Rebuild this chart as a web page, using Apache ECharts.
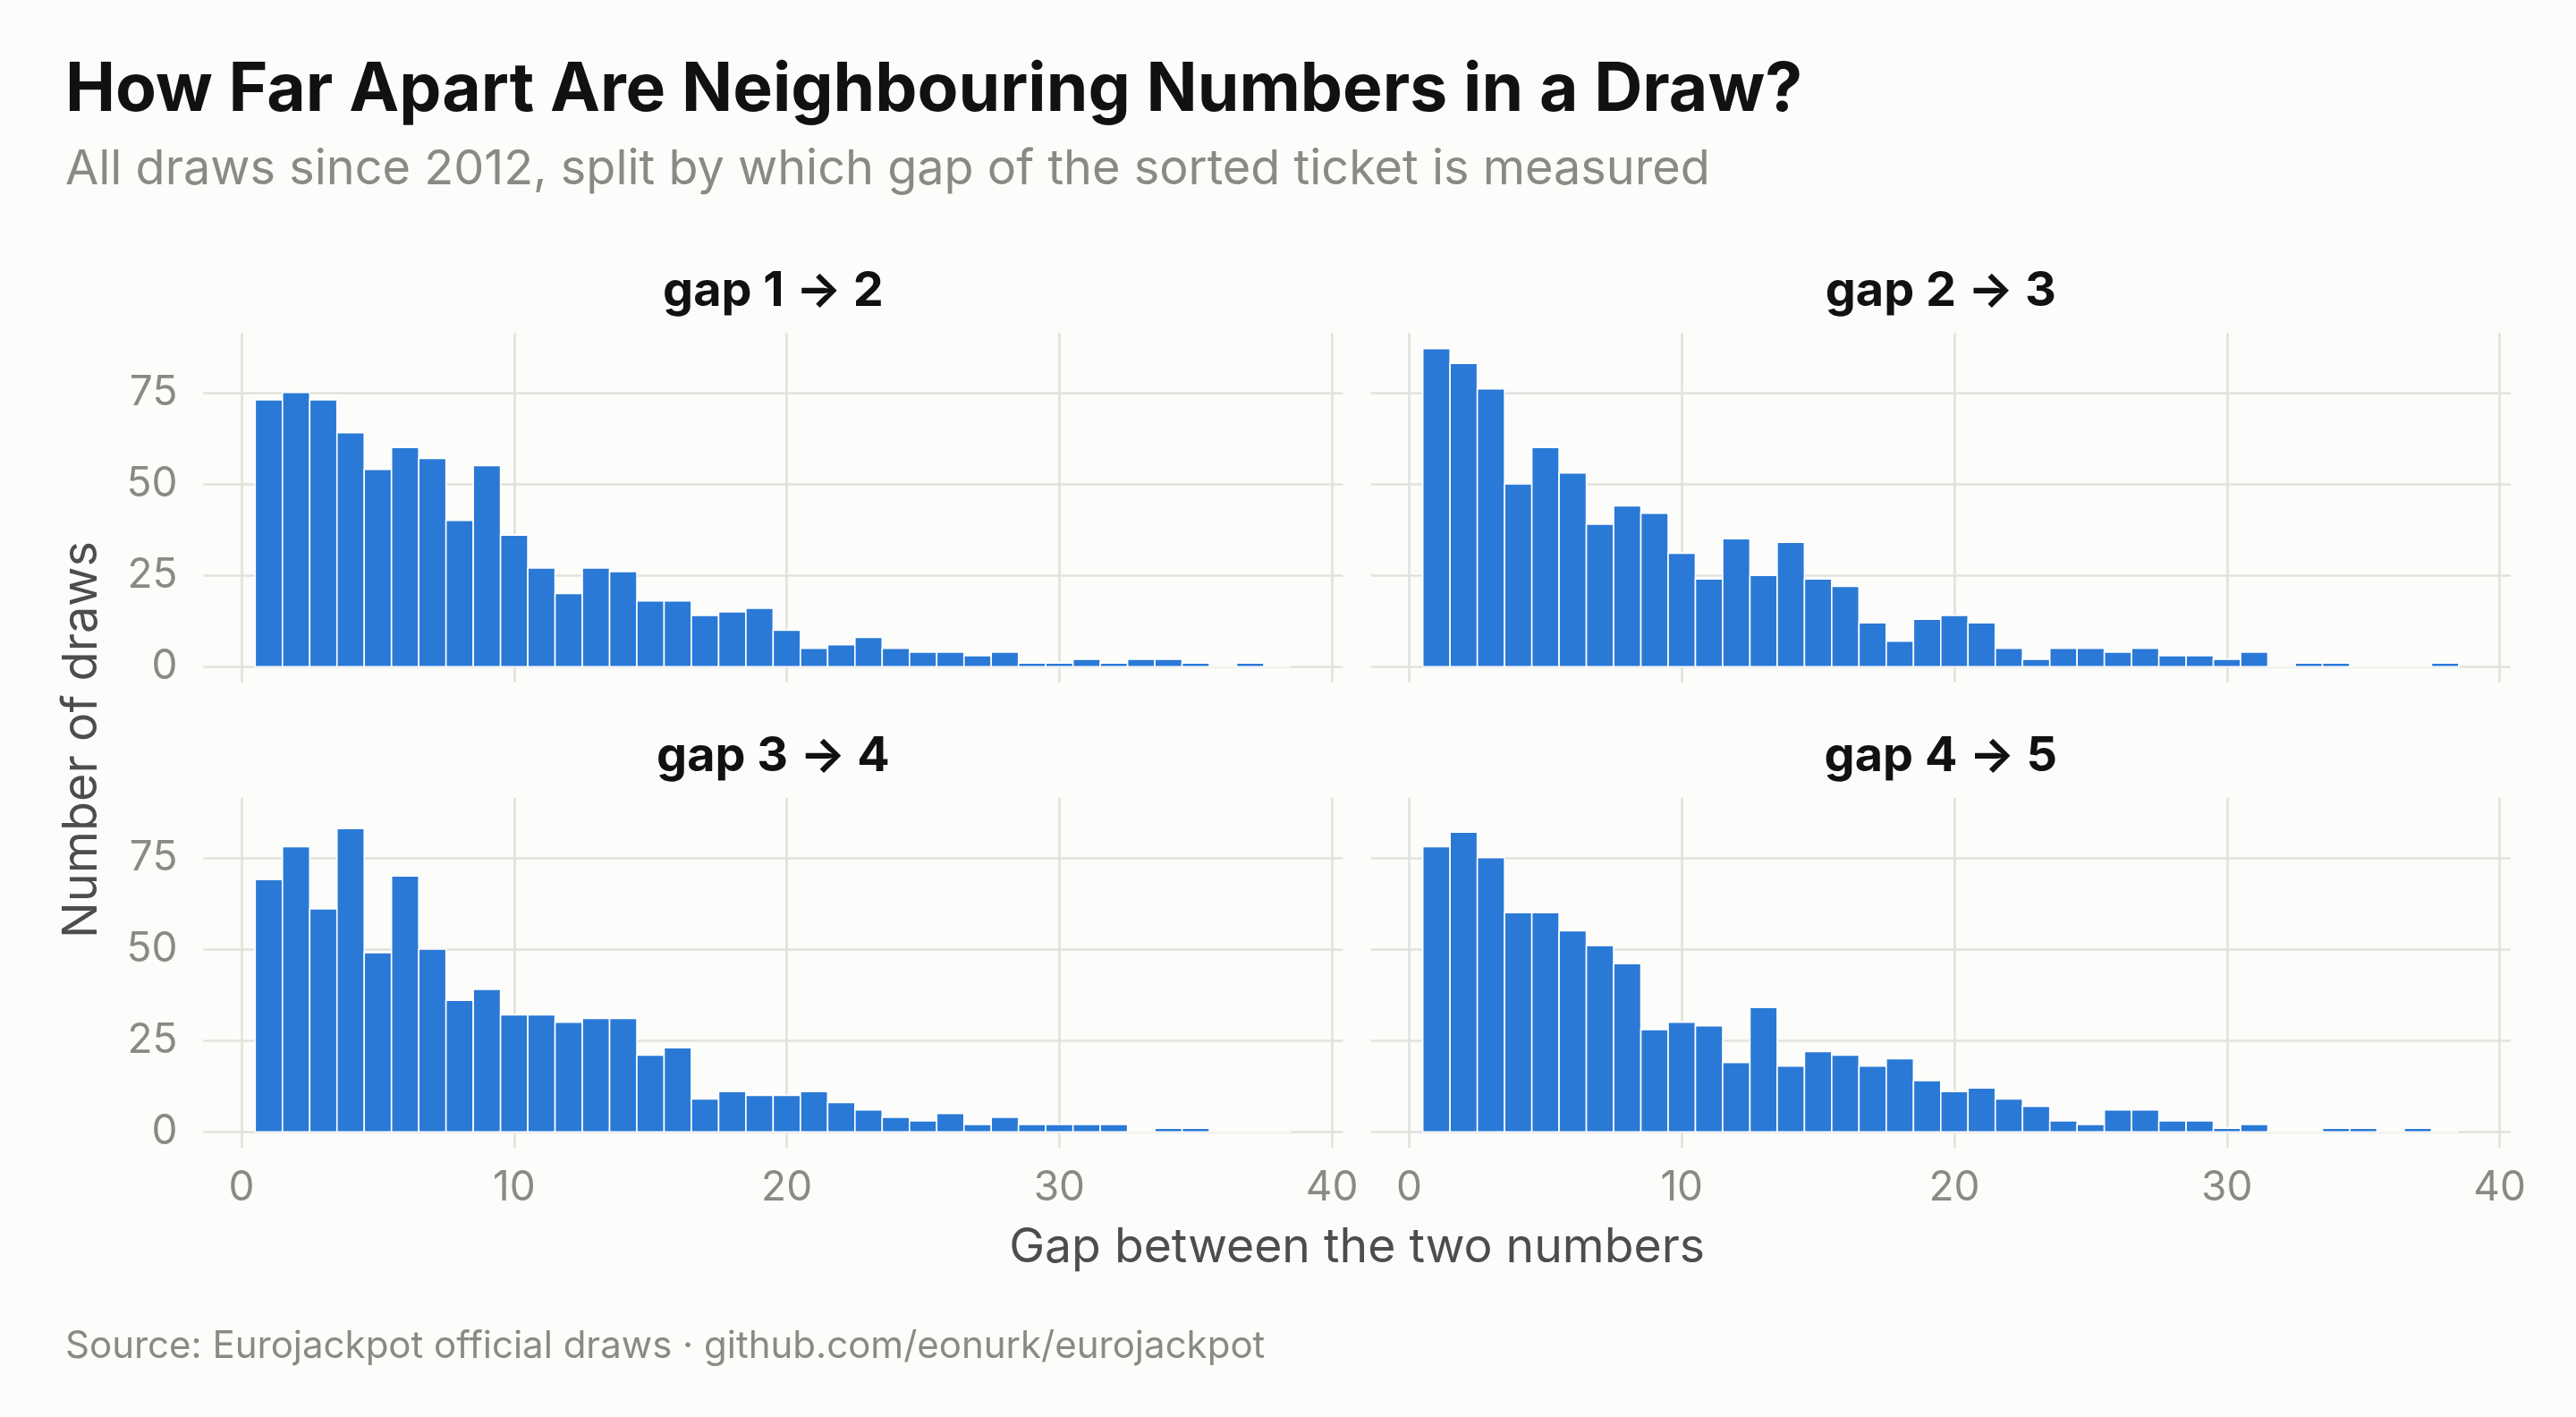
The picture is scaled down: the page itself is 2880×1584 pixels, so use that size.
<!DOCTYPE html>
<html>
<head>
<meta charset="utf-8">
<script src="https://cdn.jsdelivr.net/npm/echarts@6/dist/echarts.min.js"></script>
<style>
html,body{margin:0;padding:0;background:#fcfcfa;}
#chart{width:2880px;height:1584px;}
</style>
</head>
<body>
<div id="chart"></div>
<script>
// ---- data ----
const gapBins = [1,2,3,4,5,6,7,8,9,10,11,12,13,14,15,16,17,18,19,20,21,22,23,24,25,26,27,28,29,30,31,32,33,34,35,36,37,38];
const gap12 = [73,75,73,64,54,60,57,40,55,36,27,20,27,26,18,18,14,15,16,10,5,6,8,5,4,4,3,4,1,1,2,1,2,2,1,0,1,0];
const gap23 = [87,83,76,50,60,53,39,44,42,31,24,35,25,34,24,22,12,7,13,14,12,5,2,5,5,4,5,3,3,2,4,0,1,1,0,0,0,1];
const gap34 = [69,78,61,83,49,70,50,36,39,32,32,30,31,31,21,23,9,11,10,10,11,8,6,4,3,5,2,4,2,2,2,2,0,1,1,0,0,0];
const gap45 = [78,82,75,60,60,55,51,46,28,30,29,19,34,18,22,21,18,20,14,11,12,9,7,3,2,6,6,3,3,1,2,0,0,1,1,0,1,0];
const panelTitles = ['gap 1 → 2', 'gap 2 → 3', 'gap 3 → 4', 'gap 4 → 5'];
const xTicks = [0, 10, 20, 30, 40];
const yTicks = [0, 25, 50, 75];
const binWidth = 1;

const titleText = 'How Far Apart Are Neighbouring Numbers in a Draw?';
const subtitleText = 'All draws since 2012, split by which gap of the sorted ticket is measured';
const xTitle = 'Gap between the two numbers';
const yTitle = 'Number of draws';
const captionText = 'Source: Eurojackpot official draws · github.com/eonurk/eurojackpot';

// ---- layout ----
const FONT = 'Inter, "Noto Sans", sans-serif';
const BAR = '#2a79d6';
const GRIDC = '#e2e2dc';
const colLeft = [227.4, 1532.8];
const rowTop = [372, 892];
const pw = 1274, ph = 391;
const seriesList = [gap12, gap23, gap34, gap45];

const grids = [], xAxes = [], yAxes = [], series = [], graphics = [];
seriesList.forEach((vals, i) => {
  const c = i % 2, r = Math.floor(i / 2);
  grids.push({left: colLeft[c], top: rowTop[r], width: pw, height: ph, containLabel: false});
  xAxes.push({
    type: 'value', gridIndex: i, min: -1.4, max: 40.4,
    axisLine: {show: false},
    axisTick: {show: false, customValues: xTicks},
    splitLine: {show: true, lineStyle: {color: GRIDC, width: 2.6}},
    axisLabel: {show: r === 1, customValues: xTicks, color: '#8a8a85', fontFamily: FONT, fontSize: 46, margin: 22}
  });
  yAxes.push({
    type: 'value', gridIndex: i, min: -4.35, max: 91.35,
    axisLine: {show: false},
    axisTick: {show: false, customValues: yTicks},
    splitLine: {show: true, lineStyle: {color: GRIDC, width: 2.6}},
    axisLabel: {show: c === 0, customValues: yTicks, color: '#8a8a85', fontFamily: FONT, fontSize: 46, margin: 29}
  });
  series.push({
    type: 'custom', xAxisIndex: i, yAxisIndex: i,
    data: gapBins.map((g, k) => [g, vals[k]]),
    renderItem: function (params, api) {
      const x = api.value(0), y = api.value(1);
      const p0 = api.coord([x - binWidth / 2, y]);
      const p1 = api.coord([x + binWidth / 2, 0]);
      return {
        type: 'rect',
        shape: {x: p0[0], y: p0[1], width: p1[0] - p0[0], height: p1[1] - p0[1]},
        style: {fill: y > 0 ? BAR : 'none', stroke: '#ffffff', lineWidth: 1.6}
      };
    }
  });
  graphics.push({
    type: 'text', x: colLeft[c] + pw / 2, y: rowTop[r] - 46,
    style: {text: panelTitles[i], fill: '#111111', font: '700 54px ' + FONT, align: 'center', verticalAlign: 'middle'}
  });
});

graphics.push(
  {type: 'text', x: 73, y: 101, style: {text: titleText, fill: '#111111', font: '700 75px ' + FONT, align: 'left', verticalAlign: 'middle'}},
  {type: 'text', x: 73, y: 190, style: {text: subtitleText, fill: '#8a8a85', font: '400 54px ' + FONT, align: 'left', verticalAlign: 'middle'}},
  {type: 'text', x: (colLeft[0] + colLeft[1] + pw) / 2, y: 1395, style: {text: xTitle, fill: '#4d4d4d', font: '400 53.5px ' + FONT, align: 'center', verticalAlign: 'middle'}},
  {type: 'text', x: 92, y: 827, rotation: Math.PI / 2, style: {text: yTitle, fill: '#4d4d4d', font: '400 54px ' + FONT, align: 'center', verticalAlign: 'middle'}},
  {type: 'text', x: 73, y: 1505, style: {text: captionText, fill: '#8a8a85', font: '400 42px ' + FONT, align: 'left', verticalAlign: 'middle'}}
);

const chart = echarts.init(document.getElementById('chart'), null, {renderer: 'canvas'});
chart.setOption({
  backgroundColor: '#fcfcfa',
  animation: false,
  grid: grids,
  xAxis: xAxes,
  yAxis: yAxes,
  series: series,
  graphic: graphics
});
</script>
</body>
</html>
